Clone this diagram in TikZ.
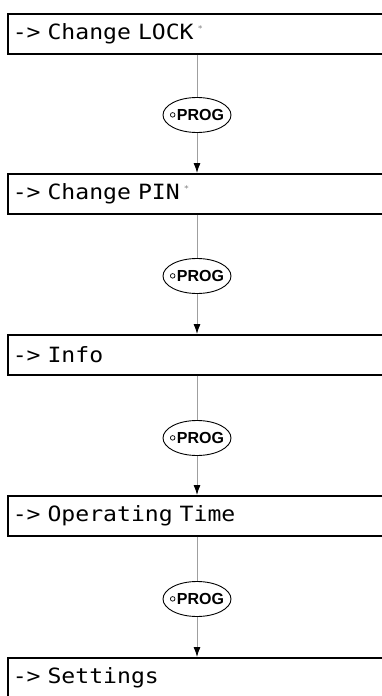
\documentclass[tikz,border=0pt]{standalone}
\usepackage{fontspec}
\newfontfamily\lcdfont[FakeStretch=1.1]{DejaVu Sans Mono}
\newfontfamily\progfont{Liberation Sans}
\usetikzlibrary{shapes.geometric,arrows.meta}
\newcommand{\fnmark}{\kern4pt\raisebox{8pt}{\textcolor{gray}{\fontsize{8}{8}\selectfont *}}}
\newcommand{\progkey}{\raisebox{3pt}{\tikz\draw[line width=0.7pt] (0,0) circle (2.3pt);}\kern1.5pt PROG}
\begin{document}
\begin{tikzpicture}[x=1pt,y=-1pt,
 menubox/.style={draw=black, line width=1.6pt, fill=white, minimum width=388pt, minimum height=40pt,
   anchor=north west, inner xsep=4pt, inner ysep=0pt, text width=378pt, align=left,
   font=\lcdfont\fontsize{21}{24}\selectfont},
 progell/.style={ellipse, draw=black, line width=0.9pt, fill=white, minimum width=68pt,
   minimum height=35pt, inner xsep=-8pt, inner ysep=-2pt, font=\progfont\bfseries\fontsize{16}{18}\selectfont},
 link/.style={draw=gray!75, line width=0.9pt},
 arr/.style={draw=gray!75, line width=0.9pt, -{Latex[length=10pt,width=7pt,black]}}]
\useasboundingbox (0,0) rectangle (382,696);
\clip (0,0) rectangle (382,696);
\fill[white] (0,0) rectangle (382,696);
% boxes
\node[menubox] (b1) at (7,13)  {-> Change LOCK\fnmark};
\node[menubox] (b2) at (7,173) {-> Change PIN\fnmark};
\node[menubox] (b3) at (7,334) {-> Info};
\node[menubox] (b4) at (7,495) {-> Operating Time};
\node[menubox] (b5) at (7,657) {-> Settings};
% PROG keys
\node[progell] (p1) at (197,115) {\progkey};
\node[progell] (p2) at (197,276) {\progkey};
\node[progell] (p3) at (197,438) {\progkey};
\node[progell] (p4) at (197,599) {\progkey};
% connectors
\draw[link] (b1.south -| p1) -- (p1.north);
\draw[arr]  (p1.south) -- (b2.north -| p1);
\draw[link] (b2.south -| p2) -- (p2.north);
\draw[arr]  (p2.south) -- (b3.north -| p2);
\draw[link] (b3.south -| p3) -- (p3.north);
\draw[arr]  (p3.south) -- (b4.north -| p3);
\draw[link] (b4.south -| p4) -- (p4.north);
\draw[arr]  (p4.south) -- (b5.north -| p4);
\end{tikzpicture}
\end{document}
